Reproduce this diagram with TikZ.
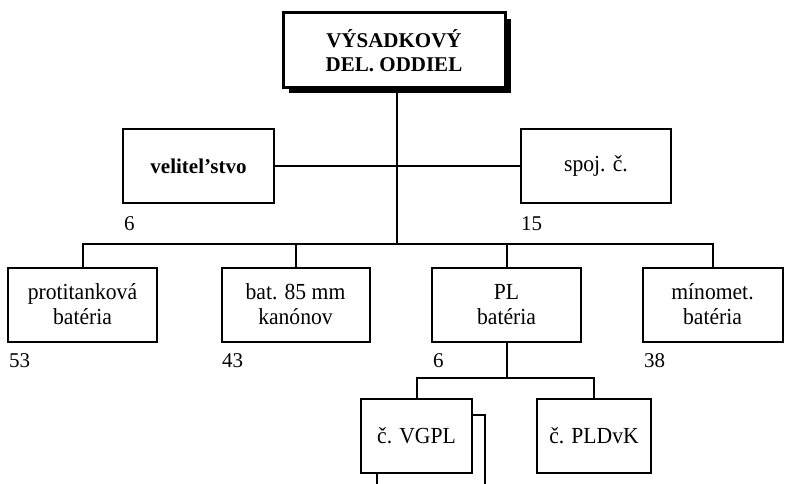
\documentclass[tikz,border=0pt]{standalone}
\usepackage{fontspec}
\setmainfont{Liberation Serif}
\newfontfamily\boxfont[FakeStretch=0.94]{Liberation Serif}
\begin{document}
\begin{tikzpicture}[x=1pt,y=-1pt,
  box/.style={draw, line width=2pt, fill=white, minimum height=74pt, align=center,
    font=\boxfont\fontsize{23}{25}\selectfont, inner sep=2pt},
  conn/.style={line width=2pt},
  num/.style={anchor=west, font=\fontsize{21}{25}\selectfont, inner sep=0pt}]
\useasboundingbox (0,0) rectangle (789,484);
% top box with shadow
\fill (289,19) rectangle (511,93);
\node[box, line width=3pt, minimum width=222pt, minimum height=75pt,
  font=\fontsize{21}{24}\selectfont\bfseries] (top) at (394,50.5) {VÝSADKOVÝ\\DEL. ODDIEL};
% first row
\node[box, minimum width=151pt, font=\fontsize{21}{25}\selectfont\bfseries] (vel) at (198.5,166) {velitel’stvo};
\node[box, minimum width=150pt] (spoj) at (596,166) {spoj. č.};
\node[num] (n6a) at (124,224) {6};
\node[num] (n15) at (521,224) {15};
% second row
\node[box, minimum width=149pt] (prot) at (82.5,304.5) {protitanková\\batéria};
\node[box, minimum width=148pt] (bat) at (295.5,304.5) {bat. 85 mm\\kanónov};
\node[box, minimum width=149pt] (pl) at (506.5,304.5) {PL\\batéria};
\node[box, minimum width=140pt] (min) at (712.5,304.5) {mínomet.\\batéria};
\node[num] (n53) at (9,361) {53};
\node[num] (n43) at (222,361) {43};
\node[num] (n6b) at (433,361) {6};
\node[num] (n38) at (644,361) {38};
% third row
\coordinate (bk1) at (473,415);
\coordinate (bk2) at (485,415);
\coordinate (bk3) at (485,484);
\draw[conn] (bk1) -- (bk2) -- (bk3);
\node[box, minimum width=111pt] (vgpl) at (416.5,436) {č. VGPL};
\node[box, minimum width=114pt] (pld) at (594,436) {č. PLDvK};
\coordinate (vend) at (377,484);
% connectors
\coordinate (bar1) at (397,244);
\draw[conn] (397,88) coordinate (tb) -- (bar1);
\draw[conn] (vel.east) -- (spoj.west);
\draw[conn] (prot.north) |- (bar1) -| (min.north);
\draw[conn] (bat.north) -- (bat.north |- bar1);
\draw[conn] (pl.north) -- (pl.north |- bar1);
\coordinate (bar2) at (506.5,378);
\draw[conn] (pl.south) -- (bar2);
\draw[conn] (vgpl.north) |- (bar2) -| (pld.north);
\draw[conn] (vgpl.south -| vend) -- (vend);
\end{tikzpicture}
\end{document}
